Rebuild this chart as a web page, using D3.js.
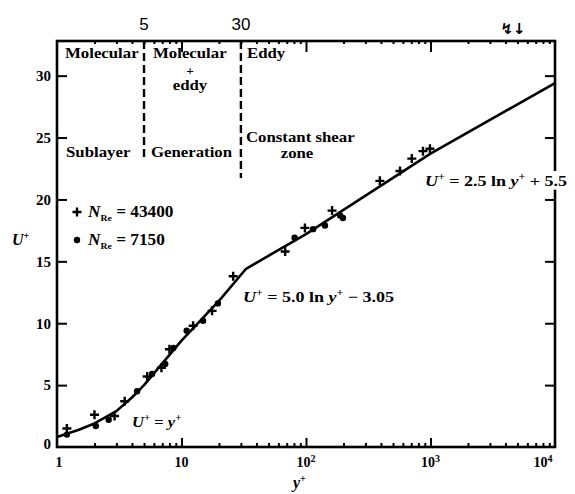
<!DOCTYPE html>
<html>
<head>
<meta charset="utf-8">
<script src="https://cdn.jsdelivr.net/npm/d3@7"></script>
<style>
  body { margin: 0; background: #fff; }
  svg text { font-family: "Liberation Serif", "Times New Roman", serif; font-weight: bold; fill: #000; }
</style>
</head>
<body>
<svg id="chart" width="575" height="494"></svg>
<script>
// universal velocity profile
const curveYp = [1, 1.5, 2, 3, 4, 5, 10, 20, 33, 100, 1000, 10000];
const curveUp = [0.8, 1.4, 1.9, 2.9, 4.0, 5.0, 8.6, 11.8, 14.4, 17.2, 23.7, 29.4];

// N_Re = 43400 (plus)
const plusYp = [1.2, 2.0, 2.9, 3.5, 5.3, 6.9, 8.0, 12.4, 17.6, 26, 68, 98, 162, 392, 569, 708, 870, 990];
const plusUp = [1.5, 2.6, 2.5, 3.7, 5.7, 6.4, 7.9, 9.8, 11.0, 13.8, 15.8, 17.7, 19.1, 21.5, 22.3, 23.3, 23.9, 24.1];

// N_Re = 7150 (dots)
const dotYp = [1.2, 2.05, 2.6, 4.4, 5.8, 7.4, 8.6, 11, 14.9, 19.6, 81, 114, 142, 188, 198];
const dotUp = [1.0, 1.7, 2.2, 4.5, 5.9, 6.7, 8.0, 9.4, 10.2, 11.6, 16.9, 17.6, 17.9, 18.7, 18.5];

const zoneEdges = [5, 30];
const yTicks = [0, 5, 10, 15, 20, 25, 30];
const xMajor = [1, 10, 100, 1000, 10000];
const xMajorLabels = [["1", ""], ["10", ""], ["10", "2"], ["10", "3"], ["10", "4"]];

const svg = d3.select("#chart");
const L = 57, R = 555, T = 41, B = 447;

const x = d3.scaleLog().domain([1, 10000]).range([L, R]);
const y = d3.scaleLinear().domain([0, 32.8]).range([B, T]);

const xMinor = [];
for (let d = 1; d < 10000; d *= 10) {
  for (let k = 2; k <= 9; k++) xMinor.push(d * k);
}

// ticks (all inward)
function cleanAxis(sel) {
  sel.select(".domain").remove();
  sel.selectAll(".tick line").attr("stroke", "#000").attr("stroke-width", 2);
}

svg.append("g").attr("transform", `translate(0,${B})`)
  .call(d3.axisBottom(x).tickValues(xMinor).tickSize(-4).tickFormat(""))
  .call(cleanAxis);
svg.append("g").attr("transform", `translate(0,${B})`)
  .call(d3.axisBottom(x).tickValues([10, 100, 1000]).tickSize(-9).tickFormat(""))
  .call(cleanAxis);
svg.append("g").attr("transform", `translate(0,${T})`)
  .call(d3.axisTop(x).tickValues(xMinor).tickSize(-3).tickFormat(""))
  .call(cleanAxis);
svg.append("g").attr("transform", `translate(0,${T})`)
  .call(d3.axisTop(x).tickValues([10, 100, 1000]).tickSize(-11).tickFormat(""))
  .call(cleanAxis);

const leftAx = svg.append("g").attr("transform", `translate(${L},0)`)
  .call(d3.axisLeft(y).tickValues(yTicks.slice(1)).tickSize(-10).tickPadding(6))
  .call(cleanAxis);
leftAx.selectAll("text").style("font-size", "15px")
  .style("font-family", "'Liberation Serif', serif").style("font-weight", "bold");
// zero label
svg.append("text").attr("x", L - 6).attr("y", y(0)).attr("dy", "0.1em")
  .attr("text-anchor", "end").style("font-size", "15px").text("0");

svg.append("g").attr("transform", `translate(${R},0)`)
  .call(d3.axisRight(y).tickValues(yTicks.slice(1)).tickSize(-10).tickFormat(""))
  .call(cleanAxis);

// frame
svg.append("rect").attr("x", L).attr("y", T).attr("width", R - L).attr("height", B - T)
  .attr("fill", "none").attr("stroke", "#000").attr("stroke-width", 2.6);

// x tick labels
xMajor.forEach((v, i) => {
  const t = svg.append("text")
    .attr("x", i === 4 ? x(v) - 12 : x(v) + (i === 0 ? 2 : 0))
    .attr("y", 467).attr("text-anchor", "middle").style("font-size", "14px");
  t.append("tspan").text(xMajorLabels[i][0]);
  if (xMajorLabels[i][1]) {
    t.append("tspan").attr("dy", -5).style("font-size", "10px").text(xMajorLabels[i][1]);
  }
});

// zone boundaries
const zoneBottom = [160, 178];
zoneEdges.forEach((v, i) => {
  svg.append("line").attr("x1", x(v)).attr("x2", x(v)).attr("y1", T).attr("y2", zoneBottom[i])
    .attr("stroke", "#000").attr("stroke-width", 2.4).attr("stroke-dasharray", "8,4");
  svg.append("text").attr("x", x(v)).attr("y", 30).attr("text-anchor", "middle")
    .style("font-family", "'Liberation Sans', sans-serif").style("font-weight", "normal")
    .style("font-size", "17px").text(String(v));
});

// stretched text helper (the scanned lettering is wider than Times)
function wideText(px, py, sx, size, anchor) {
  return svg.append("text")
    .attr("transform", `translate(${px},${py}) scale(${sx},1)`)
    .attr("text-anchor", anchor || "start")
    .style("font-size", size + "px");
}

// zone labels
const zoneText = [
  ["Molecular", 65, 58, "start", 15],
  ["Molecular", 153, 58, "start", 15],
  ["+", 190, 75, "middle", 12],
  ["eddy", 190, 90, "middle", 15],
  ["Eddy", 247, 58, "start", 15],
  ["Sublayer", 66, 157, "start", 15],
  ["Generation", 151, 157, "start", 15],
  ["Constant shear", 246, 142, "start", 15],
  ["zone", 297, 158, "middle", 15]
];
zoneText.forEach(d => {
  wideText(d[1], d[2], 1.12, d[4], d[3]).text(d[0]);
});

// profile line
const curvePts = curveYp.map((v, i) => [v, curveUp[i]]);
svg.append("path").datum(curvePts)
  .attr("fill", "none").attr("stroke", "#000").attr("stroke-width", 2.6)
  .attr("stroke-linejoin", "round")
  .attr("d", d3.line().x(d => x(d[0])).y(d => y(d[1])));

// data points
const plusPath = "M-4.5,0H4.5M0,-4.5V4.5";
svg.append("g").selectAll("path")
  .data(plusYp.map((v, i) => [v, plusUp[i]]))
  .join("path")
  .attr("transform", d => `translate(${x(d[0])},${y(d[1])})`)
  .attr("d", plusPath).attr("stroke", "#000").attr("stroke-width", 2.4);

svg.append("g").selectAll("circle")
  .data(dotYp.map((v, i) => [v, dotUp[i]]))
  .join("circle")
  .attr("cx", d => x(d[0])).attr("cy", d => y(d[1])).attr("r", 3.2).attr("fill", "#000");

// legend
svg.append("path").attr("transform", "translate(77,212)").attr("d", plusPath)
  .attr("stroke", "#000").attr("stroke-width", 2.4);
svg.append("circle").attr("cx", 77).attr("cy", 240).attr("r", 3.2).attr("fill", "#000");

function legendText(yy, val) {
  const t = wideText(88, yy, 1.08, 16);
  t.append("tspan").style("font-style", "italic").text("N");
  t.append("tspan").attr("dy", 4).style("font-size", "9px").text("Re");
  t.append("tspan").attr("dy", -4).text(" = " + val);
}
legendText(217, "43400");
legendText(245, "7150");

// equation labels
function eq(px, py, sx, parts, bg) {
  const t = wideText(px, py, sx, 15);
  let shifted = 0;
  parts.forEach(p => {
    const s = t.append("tspan").text(p[0]);
    if (p[1] === "i") s.style("font-style", "italic");
    if (p[1] === "sup") { s.attr("dy", -6).style("font-size", "10px"); shifted = 6; }
    else if (shifted) { s.attr("dy", shifted); shifted = 0; }
  });
  if (shifted) t.append("tspan").attr("dy", shifted).text("");
  if (bg) {
    const bb = t.node().getBBox();
    svg.insert("rect", () => t.node())
      .attr("x", px + (bb.x - 1) * sx).attr("y", py + bb.y)
      .attr("width", (bb.width + 2) * sx).attr("height", bb.height)
      .attr("fill", "#fff");
  }
}
eq(425, 186, 1.2, [["U", "i"], ["+", "sup"], [" = 2.5 ln ", ""], ["y", "i"], ["+", "sup"], [" + 5.5", ""]], true);
eq(243, 302, 1.2, [["U", "i"], ["+", "sup"], [" = 5.0 ln ", ""], ["y", "i"], ["+", "sup"], [" \u2212 3.05", ""]]);
eq(132, 427, 1.1, [["U", "i"], ["+", "sup"], [" = ", ""], ["y", "i"], ["+", "sup"]]);

// axis titles
const ut = svg.append("text").attr("x", 12).attr("y", 245).style("font-size", "16px");
ut.append("tspan").style("font-style", "italic").text("U");
ut.append("tspan").attr("dy", -6).style("font-size", "10px").text("+");

const yt = svg.append("text").attr("x", 293).attr("y", 488).style("font-size", "16px");
yt.append("tspan").style("font-style", "italic").text("y");
yt.append("tspan").attr("dy", -6).style("font-size", "10px").text("+");

// marker at top right
svg.append("text").attr("x", 513).attr("y", 34).attr("text-anchor", "middle")
  .style("font-family", "'DejaVu Sans', sans-serif").style("font-size", "15px").text("\u21AF\u2193");
</script>
</body>
</html>
